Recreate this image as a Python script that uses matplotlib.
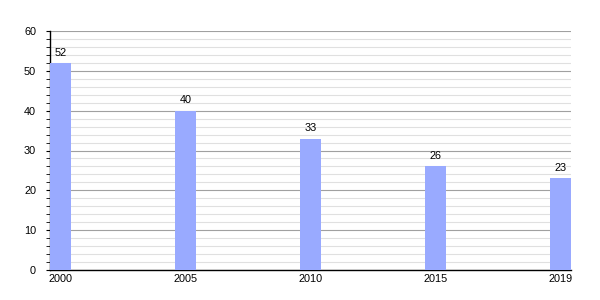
import matplotlib.pyplot as plt
import numpy as np
from matplotlib.ticker import MultipleLocator

years = ['2000', '2005', '2010', '2015', '2019']
values = [52, 40, 33, 26, 23]

plt.rcParams['font.family'] = 'Liberation Sans'

fig = plt.figure(figsize=(6, 3), dpi=100)
ax = fig.add_axes([50 / 600, 30 / 300, 521 / 600, 239 / 300])

bar_w = 21 / 125
x = np.arange(len(years))
ax.bar(x, values, width=bar_w, align='edge', color='#99aaff', zorder=3)

for xi, v in zip(x, values):
    ax.text(xi + bar_w / 2, v + 1.3, str(v), ha='center', va='bottom', fontsize=7.8, zorder=4)

ax.set_xlim(0, len(years) - 1 + bar_w)
ax.set_ylim(0, 60)
ax.set_xticks(x + bar_w / 2)
ax.set_xticklabels(years)
ax.yaxis.set_major_locator(MultipleLocator(10))
ax.yaxis.set_minor_locator(MultipleLocator(2))

ax.grid(axis='y', which='major', color='#a0a0a0', lw=0.8, zorder=0)
ax.grid(axis='y', which='minor', color='#e0e0e0', lw=0.8, zorder=0)

for s in ['top', 'right']:
    ax.spines[s].set_visible(False)
ax.spines['left'].set_linewidth(1)
ax.spines['bottom'].set_linewidth(1)

ax.tick_params(axis='x', length=0, labelsize=7.8, pad=3)
ax.tick_params(axis='y', which='both', length=3, labelsize=7.8, pad=7)

fig.savefig('out.png', dpi=100)
